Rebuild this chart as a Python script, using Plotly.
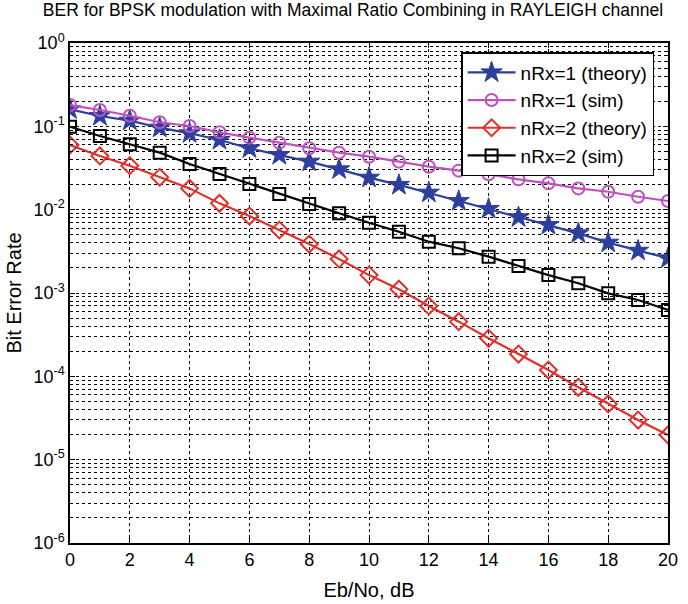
import plotly.graph_objects as go

ebno_db = list(range(0, 21))

ber_nrx1_theory = [0.160, 0.133, 0.117, 0.0963, 0.0825, 0.0686, 0.0545, 0.0453, 0.0377, 0.0305,
                   0.0242, 0.0198, 0.0160, 0.0127, 0.0102, 0.00810, 0.00655, 0.00520, 0.00402,
                   0.00322, 0.00261]
ber_nrx1_sim = [0.180, 0.157, 0.134, 0.112, 0.101, 0.0848, 0.0731, 0.0637, 0.0545, 0.0483,
                0.0432, 0.0377, 0.0328, 0.0294, 0.0266, 0.0231, 0.0207, 0.0180, 0.0164,
                0.0143, 0.0127]
ber_nrx2_theory = [0.0597, 0.0441, 0.0337, 0.0245, 0.0180, 0.0119, 0.00839, 0.00570, 0.00387,
                   0.00256, 0.00164, 0.00111, 0.000698, 0.000453, 0.000286, 0.000185,
                   0.000119, 0.0000738, 0.0000466, 0.0000299, 0.0000198]
ber_nrx2_sim = [0.0990, 0.0766, 0.0609, 0.0483, 0.0353, 0.0268, 0.0203, 0.0154, 0.0117,
                0.00904, 0.00698, 0.00544, 0.00413, 0.00344, 0.00273, 0.00211, 0.00164,
                0.00131, 0.00099, 0.000824, 0.000625]

y_tickvals = [1e-6, 1e-5, 1e-4, 1e-3, 1e-2, 1e-1, 1]
y_ticktext = ["10<sup>-6</sup>", "10<sup>-5</sup>", "10<sup>-4</sup>", "10<sup>-3</sup>",
              "10<sup>-2</sup>", "10<sup>-1</sup>", "10<sup>0</sup>"]

series = [
    ("nRx=1 (theory)", ber_nrx1_theory, "#2c3f9e", "star", 16, 1),
    ("nRx=1 (sim)", ber_nrx1_sim, "#c050c0", "circle-open", 12, 2),
    ("nRx=2 (theory)", ber_nrx2_theory, "#e0302a", "diamond-open", 13, 2),
    ("nRx=2 (sim)", ber_nrx2_sim, "#000000", "square-open", 12, 2),
]

fig = go.Figure()
for name, vals, color, sym, size, mlw in series:
    fig.add_trace(go.Scatter(
        x=ebno_db, y=vals, name=name, mode="lines+markers",
        line=dict(color=color, width=2.2),
        marker=dict(symbol=sym, size=size, color=color, line=dict(color=color, width=mlw)),
    ))

font = "Liberation Sans, Arial, sans-serif"
fig.update_layout(
    width=688, height=604,
    margin=dict(l=70, r=20, t=43, b=61),
    paper_bgcolor="white", plot_bgcolor="white",
    font=dict(family=font, size=18, color="black"),
    title=dict(text="BER for BPSK modulation with Maximal Ratio Combining in RAYLEIGH channel",
               x=0.513, xanchor="center", y=0.993, yanchor="top",
               font=dict(family=font, size=17.5, color="black")),
    legend=dict(x=0.654, y=0.982, xanchor="left", yanchor="top",
                bgcolor="white", bordercolor="black", borderwidth=1.5,
                font=dict(family=font, size=19), tracegroupgap=0, itemwidth=48),
    showlegend=True,
)
fig.update_xaxes(
    range=[0, 20], dtick=2, tick0=0, automargin=False,
    showline=True, linecolor="black", linewidth=1.5, mirror="ticks",
    ticks="inside", ticklen=5, tickcolor="black",
    showgrid=True, gridcolor="black", griddash="dot", gridwidth=1,
    zeroline=False,
    title=dict(text="Eb/No, dB", font=dict(family=font, size=20), standoff=14),
    tickfont=dict(family=font, size=18),
)
fig.update_yaxes(
    type="log", range=[-6, 0], automargin=False,
    tickmode="array", tickvals=y_tickvals, ticktext=y_ticktext,
    showline=True, linecolor="black", linewidth=1.5, mirror="ticks",
    ticks="inside", ticklen=5, tickcolor="black",
    showgrid=True, gridcolor="black", griddash="dot", gridwidth=1,
    minor=dict(dtick="D1", showgrid=True, gridcolor="black", griddash="dot", gridwidth=1,
               ticks="inside", ticklen=3, tickcolor="black"),
    zeroline=False,
    title=dict(text="Bit Error Rate", font=dict(family=font, size=20), standoff=6),
    tickfont=dict(family=font, size=18),
)

fig.write_html("out.html")
